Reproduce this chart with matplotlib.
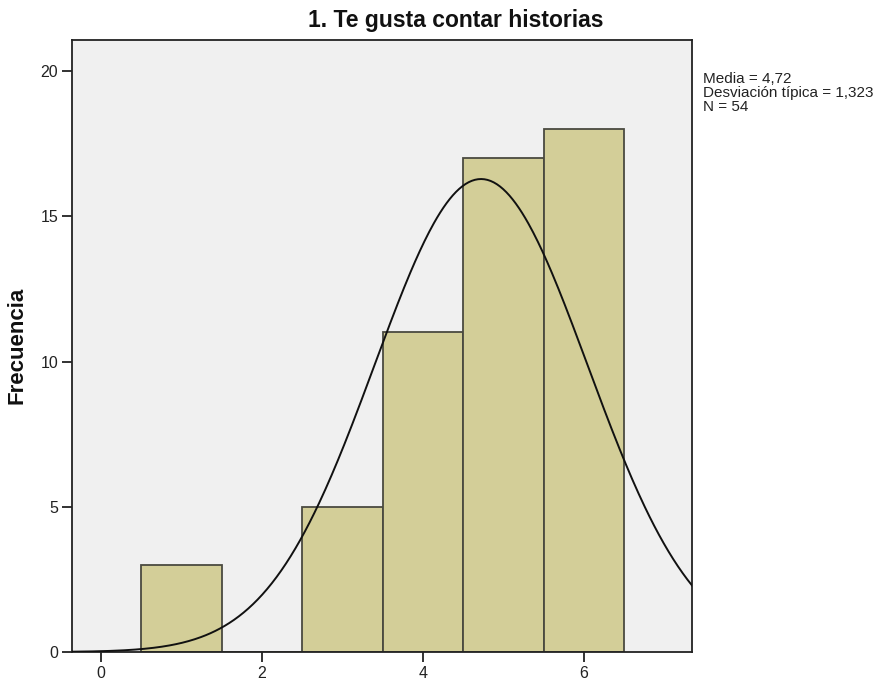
import numpy as np
import matplotlib
matplotlib.use("Agg")
import matplotlib.pyplot as plt

plt.rcParams['font.family'] = ['Liberation Sans', 'DejaVu Sans']

# histogram data (values 1..6, bin width 1)
bin_centers = [1, 2, 3, 4, 5, 6]
counts = [3, 0, 5, 11, 17, 18]
mean = 4.72
std = 1.323
n = 54

fig = plt.figure(figsize=(8.89, 6.82), dpi=100)
ax = fig.add_axes([72 / 889, 30 / 682, 620 / 889, 612 / 682])
ax.set_facecolor('#f0f0f0')

ax.bar(bin_centers, counts, width=1.0, color='#d3ce98', edgecolor='#4a4a40',
       linewidth=1.3, zorder=2)

# normal curve scaled to counts
xs = np.linspace(-0.4, 7.4, 400)
pdf = n * 1.0 / (std * np.sqrt(2 * np.pi)) * np.exp(-0.5 * ((xs - mean) / std) ** 2)
ax.plot(xs, pdf, color='#111111', linewidth=1.4, zorder=3)

ax.set_xlim(-0.36, 7.34)
ax.set_ylim(0, 21.07)
ax.set_xticks([0, 2, 4, 6])
ax.set_yticks([0, 5, 10, 15, 20])
ax.tick_params(axis='both', labelsize=11.5, length=7, width=1.3, color='#222222',
               labelcolor='#222222', pad=3)
for s in ax.spines.values():
    s.set_color('#222222')
    s.set_linewidth(1.3)

fig.text(17 / 889, 1 - 345 / 682, 'Frecuencia', fontsize=16, fontweight='bold',
         rotation=90, ha='center', va='center', color='#111111')
fig.text(456 / 889, 1 - 20 / 682, '1. Te gusta contar historias', fontsize=16.5,
         fontweight='bold', ha='center', va='center', color='#111111')

fig.text(703 / 889, 1 - 72 / 682,
         'Media = 4,72\nDesviación típica = 1,323\nN = 54',
         fontsize=11, va='top', ha='left', linespacing=0.98, color='#222222')

fig.savefig('out.png', dpi=100)
